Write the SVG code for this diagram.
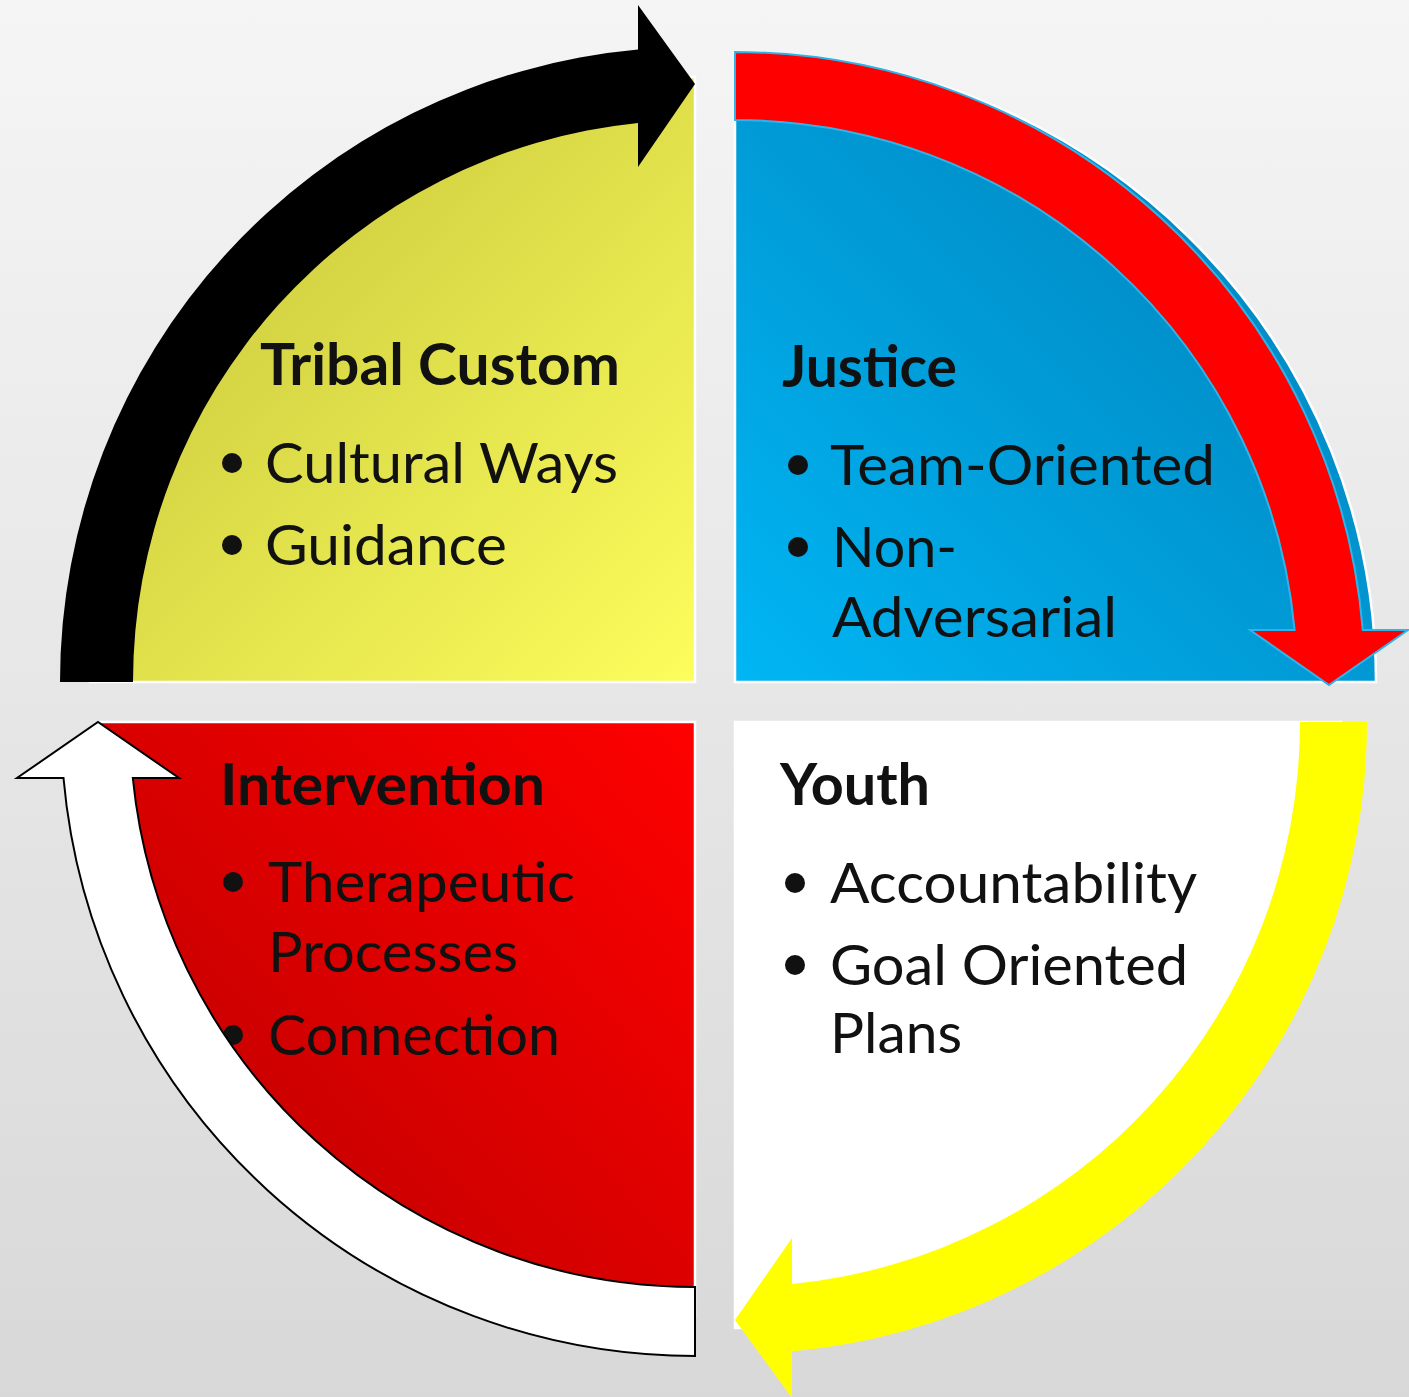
<svg xmlns="http://www.w3.org/2000/svg" width="1409" height="1397" viewBox="0 0 1409 1397">
<defs>
<linearGradient id="bg" x1="0" y1="0" x2="0" y2="1">
<stop offset="0" stop-color="#f5f5f5"/>
<stop offset="1" stop-color="#d8d8d8"/>
</linearGradient>
<linearGradient id="gY" gradientUnits="userSpaceOnUse" x1="150" y1="140" x2="695" y2="682">
<stop offset="0" stop-color="#c6c63c"/>
<stop offset="1" stop-color="#fdfd5c"/>
</linearGradient>
<linearGradient id="gB" gradientUnits="userSpaceOnUse" x1="1250" y1="160" x2="735" y2="682">
<stop offset="0" stop-color="#0086c0"/>
<stop offset="1" stop-color="#00b6f4"/>
</linearGradient>
<linearGradient id="gR" gradientUnits="userSpaceOnUse" x1="695" y1="722" x2="240" y2="1150">
<stop offset="0" stop-color="#ff0000"/>
<stop offset="1" stop-color="#c80000"/>
</linearGradient>
<style>
.q{stroke:#ffffff;stroke-width:2.5}
.t{font-family:Lato,"Open Sans","Liberation Sans",sans-serif;font-size:57px;fill:#111111}
.h{font-weight:bold}
.b{fill:#111111}
</style>
</defs>
<rect x="0" y="0" width="1409" height="1397" fill="url(#bg)"/>

<g id="node-tribal-custom">
<path class="q" d="M695,682 L90,682 A605,605 0 0,1 695,77 Z" fill="url(#gY)"/>
<text class="t h" x="260" y="385" textLength="360" lengthAdjust="spacingAndGlyphs">Tribal Custom</text>
<circle class="b" cx="232" cy="463" r="10"/>
<text class="t" x="265" y="483" textLength="353" lengthAdjust="spacingAndGlyphs">Cultural Ways</text>
<circle class="b" cx="232" cy="545" r="10"/>
<text class="t" x="265" y="565" textLength="242" lengthAdjust="spacingAndGlyphs">Guidance</text>
</g>

<g id="node-justice">
<path class="q" d="M735,682 L735,52 A641,630 0 0,1 1376,682 Z" fill="url(#gB)"/>
<text class="t h" x="782" y="387" textLength="175" lengthAdjust="spacingAndGlyphs">Justice</text>
<circle class="b" cx="798" cy="465" r="10"/>
<text class="t" x="830" y="485" textLength="385" lengthAdjust="spacingAndGlyphs">Team-Oriented</text>
<circle class="b" cx="798" cy="547" r="10"/>
<text class="t" x="832" y="567" textLength="125" lengthAdjust="spacingAndGlyphs">Non-</text>
<text class="t" x="832" y="637" textLength="285" lengthAdjust="spacingAndGlyphs">Adversarial</text>
</g>

<g id="node-intervention">
<path class="q" d="M695,722 L695,1317 A595,595 0 0,1 100,722 Z" fill="url(#gR)"/>
<text class="t h" x="220" y="805" textLength="325" lengthAdjust="spacingAndGlyphs">Intervention</text>
<circle class="b" cx="233" cy="882" r="10"/>
<text class="t" x="268" y="902" textLength="307" lengthAdjust="spacingAndGlyphs">Therapeutic</text>
<text class="t" x="268" y="972" textLength="250" lengthAdjust="spacingAndGlyphs">Processes</text>
<circle class="b" cx="233" cy="1035" r="10"/>
<text class="t" x="268" y="1055" textLength="292" lengthAdjust="spacingAndGlyphs">Connection</text>
</g>

<g id="node-youth">
<path class="q" d="M735,722 L1341,722 A606,606 0 0,1 735,1328 Z" fill="#ffffff"/>
<text class="t h" x="780" y="805" textLength="150" lengthAdjust="spacingAndGlyphs">Youth</text>
<circle class="b" cx="795" cy="883" r="10"/>
<text class="t" x="830" y="903" textLength="367" lengthAdjust="spacingAndGlyphs">Accountability</text>
<circle class="b" cx="795" cy="965" r="10"/>
<text class="t" x="830" y="985" textLength="358" lengthAdjust="spacingAndGlyphs">Goal Oriented</text>
<text class="t" x="830" y="1053" textLength="132" lengthAdjust="spacingAndGlyphs">Plans</text>
</g>

<g id="connectors">
<path id="arrow-black" d="M60,682 A635,635 0 0,1 638,49.6 L638,5 L695,84 L638,167 L638,122.9 A562,562 0 0,0 133,682 Z" fill="#000000"/>
<path id="arrow-red" d="M735,52 A630,630 0 0,1 1362.8,630 L1408,630 L1329,685 L1250,630 L1294.6,630 A562,562 0 0,0 735,120 Z" fill="#ff0000" stroke="#2fb4ea" stroke-width="2"/>
<path id="arrow-yellow" d="M1367,722 A632,632 0 0,1 792,1351.4 L792,1398 L735,1320 L792,1238 L792,1284.1 A565,565 0 0,0 1300,722 Z" fill="#ffff00"/>
<path id="arrow-white" d="M695,1356 A634,634 0 0,1 63.5,778 L17,778 L98,722 L179,778 L132.8,778 A565,565 0 0,0 695,1287 Z" fill="#ffffff" stroke="#000000" stroke-width="2"/>
</g>
</svg>
